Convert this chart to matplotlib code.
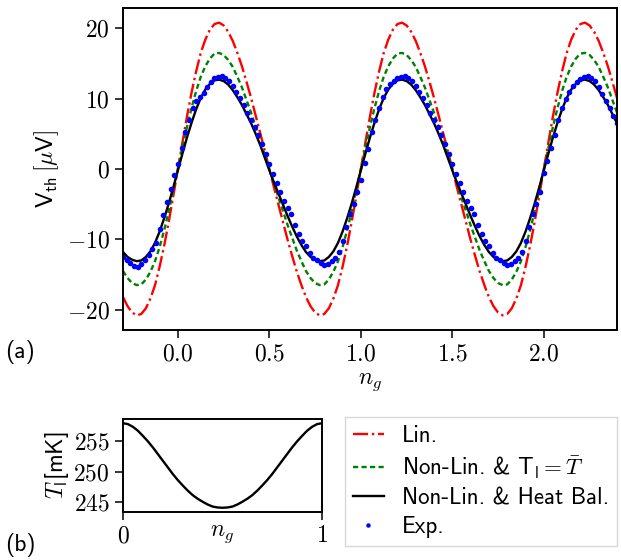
import numpy as np
import matplotlib
matplotlib.use('Agg')
import matplotlib.pyplot as plt
from matplotlib.ticker import FuncFormatter

plt.rcParams['mathtext.fontset'] = 'cm'
plt.rcParams['font.family'] = ['cmss10', 'DejaVu Sans']
plt.rcParams['axes.unicode_minus'] = False

# model curves, n_g from -0.3 to 2.4 every 0.025
ng_model = np.linspace(-0.3, 2.4, 109)

lin = ([-18.2, -19.5, -20.4, -20.8, -20.6, -19.8, -18.4, -16.5, -13.9, -10.9, -7.5, -3.8]
       + [0.0, 3.8, 7.5, 10.9, 13.9, 16.5, 18.4, 19.8, 20.6, 20.8, 20.4, 19.5, 18.2, 16.5, 14.6, 12.4, 10.1, 7.6, 5.1, 2.6,
          0.0, -2.6, -5.1, -7.6, -10.1, -12.4, -14.6, -16.5, -18.2, -19.5, -20.4, -20.8, -20.6, -19.8, -18.4, -16.5, -13.9, -10.9, -7.5, -3.8]
       + [0.0, 3.8, 7.5, 10.9, 13.9, 16.5, 18.4, 19.8, 20.6, 20.8, 20.4, 19.5, 18.2, 16.5, 14.6, 12.4, 10.1, 7.6, 5.1, 2.6,
          0.0, -2.6, -5.1, -7.6, -10.1, -12.4, -14.6, -16.5, -18.2, -19.5, -20.4, -20.8, -20.6, -19.8, -18.4, -16.5, -13.9, -10.9, -7.5, -3.8]
       + [0.0, 3.8, 7.5, 10.9, 13.9, 16.5, 18.4, 19.8, 20.6, 20.8, 20.4, 19.5, 18.2, 16.5, 14.6, 12.4, 10.1])

nonlin_T = ([-14.5, -15.5, -16.2, -16.5, -16.4, -15.7, -14.6, -13.1, -11.1, -8.7, -6.0, -3.0]
            + [0.0, 3.0, 6.0, 8.7, 11.1, 13.1, 14.6, 15.7, 16.4, 16.5, 16.2, 15.5, 14.5, 13.1, 11.6, 9.8, 8.0, 6.0, 4.1, 2.0,
               0.0, -2.0, -4.1, -6.0, -8.0, -9.8, -11.6, -13.1, -14.5, -15.5, -16.2, -16.5, -16.4, -15.7, -14.6, -13.1, -11.1, -8.7, -6.0, -3.0]
            + [0.0, 3.0, 6.0, 8.7, 11.1, 13.1, 14.6, 15.7, 16.4, 16.5, 16.2, 15.5, 14.5, 13.1, 11.6, 9.8, 8.0, 6.0, 4.1, 2.0,
               0.0, -2.0, -4.1, -6.0, -8.0, -9.8, -11.6, -13.1, -14.5, -15.5, -16.2, -16.5, -16.4, -15.7, -14.6, -13.1, -11.1, -8.7, -6.0, -3.0]
            + [0.0, 3.0, 6.0, 8.7, 11.1, 13.1, 14.6, 15.7, 16.4, 16.5, 16.2, 15.5, 14.5, 13.1, 11.6, 9.8, 8.0])

nonlin_heat = ([-11.8, -12.5, -12.9, -13.1, -13.0, -12.5, -11.7, -10.5, -8.9, -7.0, -4.9, -2.6]
               + [-0.2, 2.2, 4.5, 6.6, 8.5, 10.1, 11.3, 12.1, 12.6, 12.7, 12.5, 12.0, 11.2, 10.2, 9.1, 7.8, 6.5, 5.0, 3.4, 1.6,
                  -0.2, -1.9, -3.5, -5.1, -6.7, -8.2, -9.6, -10.8, -11.8, -12.5, -12.9, -13.1, -13.0, -12.5, -11.7, -10.5, -8.9, -7.0, -4.9, -2.6]
               + [-0.2, 2.2, 4.5, 6.6, 8.5, 10.1, 11.3, 12.1, 12.6, 12.7, 12.5, 12.0, 11.2, 10.2, 9.1, 7.8, 6.5, 5.0, 3.4, 1.6,
                  -0.2, -1.9, -3.5, -5.1, -6.7, -8.2, -9.6, -10.8, -11.8, -12.5, -12.9, -13.1, -13.0, -12.5, -11.7, -10.5, -8.9, -7.0, -4.9, -2.6]
               + [-0.2, 2.2, 4.5, 6.6, 8.5, 10.1, 11.3, 12.1, 12.6, 12.7, 12.5, 12.0, 11.2, 10.2, 9.1, 7.8, 6.5])

# experimental points, n_g from -0.3 to 2.4 every 0.02
ng_exp = np.linspace(-0.3, 2.4, 136)
v_exp = ([-12.5, -12.9, -13.4, -13.8, -13.9, -13.5, -12.9, -12.2, -11.4, -10.5, -8.5, -6.5, -4.7, -2.9, -0.9]
         + [0.7, 3.0, 5.2, 7.0, 8.7, 9.6, 10.2, 10.8, 11.6, 12.4, 12.9, 13.1, 13.2, 13.0, 12.5, 11.8, 11.0, 10.1, 9.1, 8.0,
            6.9, 5.9, 4.8, 3.6, 2.2, 0.7, -0.7, -2.0, -3.3, -4.6, -5.5, -6.4, -7.9, -9.3, -10.2, -11.0, -11.9, -12.6, -13.0, -13.4,
            -13.6, -13.5, -13.1, -12.7, -11.8, -10.2, -8.3, -6.4, -5.0, -3.2]
         + [-1.6, 0.9, 2.8, 5.2, 7.0, 8.7, 10.3, 11.3, 12.1, 12.5, 12.9, 13.1, 13.2, 13.0, 12.5, 11.8, 11.0, 10.1, 9.1, 8.0,
            6.9, 5.9, 4.8, 3.6, 2.2, 0.7, -0.7, -2.0, -3.3, -4.6, -5.5, -6.4, -7.9, -9.3, -10.2, -11.0, -11.9, -12.6, -13.0, -13.4,
            -13.6, -13.5, -13.1, -12.7, -11.8, -10.2, -8.3, -6.4, -5.0, -3.2]
         + [-0.6, 1.1, 3.0, 4.9, 6.9, 8.6, 10.0, 11.0, 11.8, 12.3, 12.8, 13.1, 13.2, 13.0, 12.5, 11.7, 10.7, 9.6, 8.6, 7.5, 6.6])

# island temperature over one period, every 0.025
ng_T = np.linspace(0, 1, 41)
T_isl = [258.0, 257.85, 257.4, 256.75, 255.9, 255.0, 254.0, 252.9, 251.8, 250.7, 249.6,
         248.6, 247.7, 246.85, 246.1, 245.5, 245.0, 244.55, 244.2, 244.05, 244.0,
         244.05, 244.2, 244.55, 245.0, 245.5, 246.1, 246.85, 247.7, 248.6, 249.6,
         250.7, 251.8, 252.9, 254.0, 255.0, 255.9, 256.75, 257.4, 257.85, 258.0]

labels = ['Lin.', r'Non-Lin. & $\mathsf{T_l} = \bar{T}$', 'Non-Lin. & Heat Bal.', 'Exp.']

fig = plt.figure(figsize=(6.21, 5.6), dpi=100)
ax = fig.add_axes([123/621, 1-330/560, 494/621, 322/560])
ax2 = fig.add_axes([123/621, 1-512/560, 199/621, 93/560])

l1, = ax.plot(ng_model, lin, color='red', ls='-.', lw=1.7)
l2, = ax.plot(ng_model, nonlin_T, color='green', ls='--', lw=1.7, dashes=(2.2, 1.4))
l3, = ax.plot(ng_model, nonlin_heat, color='black', ls='-', lw=1.7)
l4, = ax.plot(ng_exp, v_exp, 'o', color='blue', ms=4.0, mec='none')

ax.set_xlim(-0.3, 2.4)
ax.set_xticks([0, 0.5, 1, 1.5, 2])
ax.set_yticks([-20, -10, 0, 10, 20])
ax.xaxis.set_major_formatter(FuncFormatter(lambda v, p: '$%.1f$' % v))
ax.yaxis.set_major_formatter(FuncFormatter(lambda v, p: '$%d$' % v))
ax.set_xlabel('$n_g$', fontsize=17, labelpad=4)
ax.set_ylabel(r'$\mathsf{V}_{\mathsf{th}}\,[\mu\mathsf{V}]$', fontsize=17, labelpad=4)

ax2.plot(ng_T, T_isl, color='black', lw=1.7)
ax2.set_xlim(0, 1)
ax2.set_xticks([0, 1])
ax2.set_yticks([245, 250, 255])
ax2.xaxis.set_major_formatter(FuncFormatter(lambda v, p: '$%d$' % v))
ax2.yaxis.set_major_formatter(FuncFormatter(lambda v, p: '$%d$' % v))
ax2.text(0.5, -0.12, '$n_g$', transform=ax2.transAxes, ha='center', va='top', fontsize=17)
ax2.set_ylabel(r'$T_\mathsf{l}$[mK]', fontsize=17, labelpad=2)

for a in (ax, ax2):
    a.tick_params(direction='out', length=6, width=1.1, labelsize=17)
    for s in a.spines.values():
        s.set_linewidth(1.4)

fig.legend([l1, l2, l3, l4], labels, loc='upper left', bbox_to_anchor=(345/621, 1-417/560),
           fontsize=16.5, frameon=True, fancybox=False, edgecolor='0.8', borderaxespad=0,
           handlelength=1.35, handletextpad=0.8, labelspacing=0.3, numpoints=1, markerscale=0.8,
           borderpad=0.35)

fig.text(0.008, 1-352/560, '(a)', fontsize=17, va='center')
fig.text(0.008, 1-545/560, '(b)', fontsize=17, va='center')

fig.savefig('out.png', dpi=100)
